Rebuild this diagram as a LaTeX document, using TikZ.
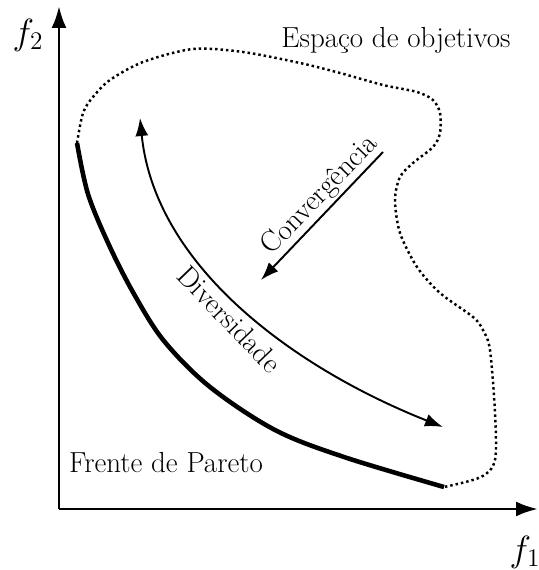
\documentclass[tikz,border=0pt]{standalone}
\usepackage{amsmath}
\usepackage{tikz}
\usetikzlibrary{arrows.meta,positioning,calc}

\begin{document}
\begin{tikzpicture}[
  axis/.style={-{Latex[length=0.44cm, width=0.3cm]}, line width=1.7pt},
  front/.style={line width=2.6pt},
  region/.style={line width=1.4pt, dash pattern=on 1.4pt off 1.7pt},
  arr/.style={-{Latex[length=0.36cm, width=0.26cm]}, line width=1.1pt},
  label/.style={align=center, font=\fontsize{16.5}{20}\selectfont, inner sep=1pt},
  axlabel/.style={font=\fontsize{20}{24}\selectfont, inner sep=1pt}
]

\useasboundingbox (-1.18,-1.22) rectangle (9.6,10.18);

\coordinate (origin) at (0,0);
\coordinate (f1end) at (9.58,0);
\coordinate (f2end) at (0,10.06);

\draw[axis] (origin) -- (f1end);
\draw[axis] (origin) -- (f2end);

\node[axlabel] (f1) at (9.32,-0.86) {$f_1$};
\node[axlabel] (f2) at (-0.62,9.48) {$f_2$};

% fronteira de Pareto
\coordinate (frontA) at (0.36,7.32);
\coordinate (frontB) at (7.70,0.44);
\draw[front] plot[smooth, tension=0.55] coordinates {(frontA) (0.58,6.30) (1.00,5.28) (1.50,4.30) (2.10,3.36) (3.02,2.44) (4.32,1.58) (5.70,1.04) (frontB)};

% espaco de objetivos
\draw[region] plot[smooth, tension=0.5] coordinates {(frontA) (0.48,7.92) (0.68,8.24) (1.02,8.58) (1.68,8.94) (2.68,9.20) (3.68,9.14) (4.82,8.92) (5.62,8.72) (6.48,8.48) (7.16,8.34) (7.48,8.18) (7.62,7.92) (7.62,7.52) (7.48,7.24) (7.08,6.92) (6.82,6.64) (6.72,6.18) (6.82,5.52) (7.16,4.84) (7.62,4.32) (8.28,3.84) (8.48,3.58) (8.62,3.18) (8.72,1.92) (8.72,0.98) (8.44,0.64) (frontB)};

\node[label] (space) at (6.74,9.38) {Espaço de objetivos};
\node[label, anchor=west] (pareto) at (0.16,0.92) {Frente de Pareto};

% convergencia
\coordinate (convA) at (6.48,7.14);
\coordinate (convB) at (4.04,4.58);
\draw[arr] (convA) -- (convB);
\node[label, rotate=46] (conv) at (5.22,6.27) {Convergência};

% diversidade
\coordinate (divA) at (7.68,1.64);
\coordinate (divB) at (1.62,7.82);
\draw[arr, {Latex[length=0.36cm, width=0.26cm]}-{Latex[length=0.36cm, width=0.26cm]}] (divA) .. controls (4.70,2.82) and (1.92,4.85) .. (divB);
\node[label, rotate=-46] (div) at (3.41,3.80) {Diversidade};

\end{tikzpicture}
\end{document}
